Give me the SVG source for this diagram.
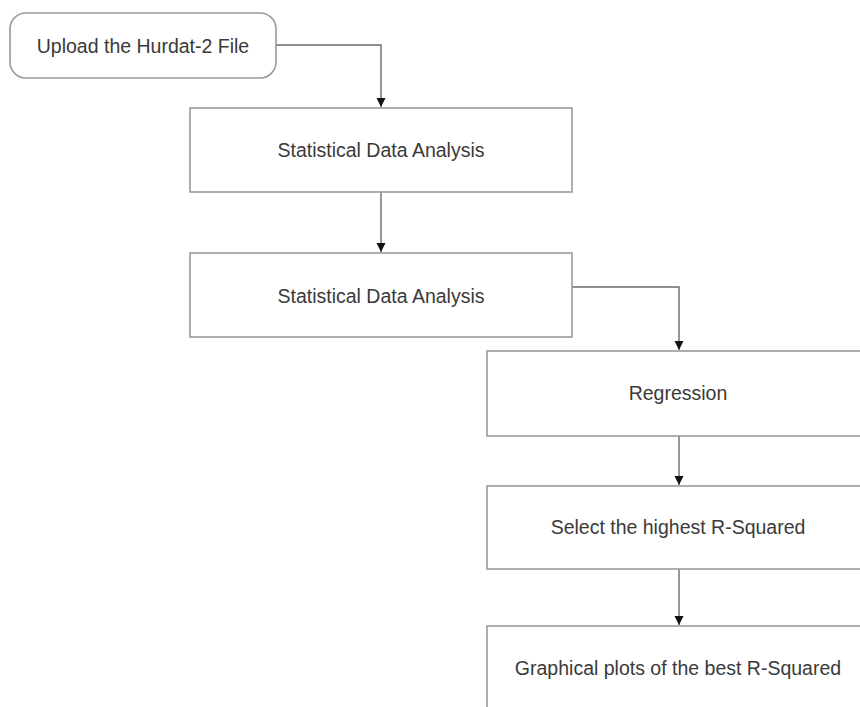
<svg xmlns="http://www.w3.org/2000/svg" width="860" height="707" viewBox="0 0 860 707">
<style>
.box{fill:#fff;stroke:#9a9a9a;stroke-width:1.6}
.lbl{font-family:"Liberation Sans",Arial,sans-serif;font-size:19.5px;fill:#3a3a3a;text-anchor:middle}
.edge{fill:none;stroke:#6a6a6a;stroke-width:1.4}
</style>
<defs>
<marker id="arr" viewBox="0 0 10 10" refX="10" refY="5" markerWidth="9" markerHeight="10" markerUnits="userSpaceOnUse" orient="auto">
<path d="M0,0 L10,5 L0,10 z" fill="#111"/>
</marker>
</defs>
<rect width="860" height="707" fill="#fff"/>
<g id="connectors">
<path class="edge" d="M276,45 H381 V107" marker-end="url(#arr)"/>
<path class="edge" d="M381,192 V252" marker-end="url(#arr)"/>
<path class="edge" d="M572,287 H679 V350" marker-end="url(#arr)"/>
<path class="edge" d="M679,436 V485" marker-end="url(#arr)"/>
<path class="edge" d="M679,569 V625" marker-end="url(#arr)"/>
</g>
<g id="n1"><rect class="box" x="10" y="13" width="266" height="65" rx="16"/><text class="lbl" x="143" y="53">Upload the Hurdat-2 File</text></g>
<g id="n2"><rect class="box" x="190" y="108" width="382" height="84"/><text class="lbl" x="381" y="157">Statistical Data Analysis</text></g>
<g id="n3"><rect class="box" x="190" y="253" width="382" height="84"/><text class="lbl" x="381" y="303">Statistical Data Analysis</text></g>
<g id="n4"><rect class="box" x="487" y="351" width="390" height="85"/><text class="lbl" x="678" y="400">Regression</text></g>
<g id="n5"><rect class="box" x="487" y="486" width="390" height="83"/><text class="lbl" x="678" y="534">Select the highest R-Squared</text></g>
<g id="n6"><rect class="box" x="487" y="626" width="390" height="100"/><text class="lbl" x="678" y="675">Graphical plots of the best R-Squared</text></g>
</svg>
